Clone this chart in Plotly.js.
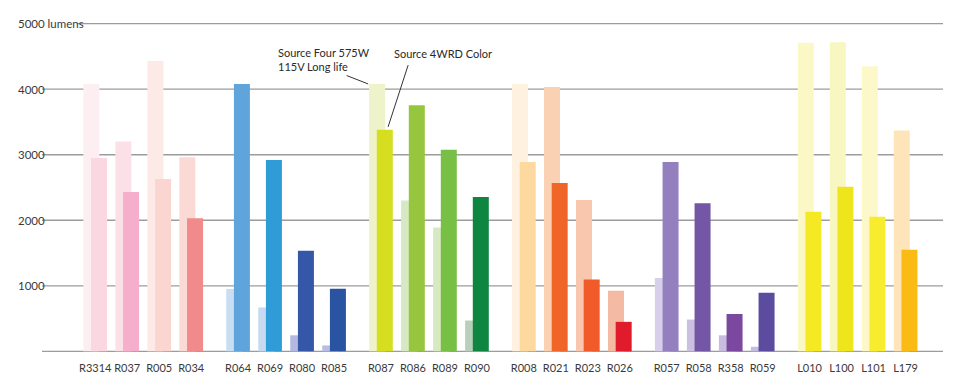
<!DOCTYPE html>
<html>
<head>
<meta charset="utf-8">
<script src="https://cdn.plot.ly/plotly-3.0.1.min.js"></script>
<style>html,body{margin:0;padding:0;background:#fff;}#chart{width:960px;height:390px;}</style>
</head>
<body>
<div id="chart"></div>
<script>
// ---- data ----
const categories = ['R3314','R037','R005','R034','R064','R069','R080','R085','R087','R086','R089','R090',
                    'R008','R021','R023','R026','R057','R058','R358','R059','L010','L100','L101','L179'];
const categoryGroup = [0,0,0,0, 1,1,1,1, 2,2,2,2, 3,3,3,3, 4,4,4,4, 5,5,5,5];
const seriesNames = ['Source Four 575W 115V Long life', 'Source 4WRD Color'];
const sourceFour = [4080,3200,4430,2960, 950,670,245,90, 4080,2300,1890,470, 4080,4035,2310,925, 1120,485,245,70, 4710,4715,4350,3370];
const source4WRD = [2950,2430,2630,2030, 4080,2920,1535,955, 3380,3755,3075,2355, 2890,2570,1095,450, 2890,2260,570,895, 2130,2510,2055,1550];
const yTickValues = [1000,2000,3000,4000,5000];
const yTickLabels = ['1000','2000','3000','4000','5000 lumens'];

// ---- colours ----
const lightColors = ['#fdeef1','#fbe0e8','#fde9e6','#fbd9d5', '#c9ddf3','#c6daf1','#b4b8e1','#b9bde3',
                     '#eff3c9','#d7e9c3','#d6e9c1','#b8cfb9', '#fef1df','#fbd1b3','#f9c6ae','#f5baa4',
                     '#d8d0ea','#cbc0e0','#c8bcdf','#c3bee0', '#fbf8c5','#f8f6c1','#fcf8c9','#fde5b9'];
const darkColors  = ['#fad7e1','#f5aecb','#fbd6d0','#f08a8b', '#5fa5dc','#2f9bd7','#3457a8','#2a53a2',
                     '#d6df1f','#96c63e','#78bf45','#0e8541', '#fdd89f','#f06628','#f15a29','#e01c2c',
                     '#9580bf','#7356a5','#7a489e','#5b4ca0', '#f4e922','#eee51d','#f7ec2d','#fbbb15'];

// ---- layout geometry (pixels) ----
const W = 960, H = 390;
const M = {l: 42, r: 17, t: 23, b: 38};
const plotW = W - M.l - M.r, plotH = H - M.t - M.b;
const groupGap = 0.465;    // extra slot units between groups
const pairOffset = 0.12;   // bar offset from pair centre
const barW = 0.5;
const xRange = [-1.6625, -1.6625 + plotW / 32];
const yRange = [-10, 5010];

const pos = categories.map((c, i) => i + categoryGroup[i] * groupGap);
const xLight = pos.map(p => p - pairOffset);
const xDark = pos.map(p => p + pairOffset);

const txtFont = 'Lato, Roboto, sans-serif';
const pxToPaperX = px => (px - M.l) / plotW;
const pxToPaperY = py => 1 - (py - M.t) / plotH;

const traces = [
  {type: 'bar', name: seriesNames[0], x: xLight, y: sourceFour, width: barW,
   marker: {color: lightColors, line: {width: 0}}, hoverinfo: 'y'},
  {type: 'bar', name: seriesNames[1], x: xDark, y: source4WRD, width: barW,
   marker: {color: darkColors, line: {width: 0}}, hoverinfo: 'y'}
];

// gridlines as shapes (top one starts after its label)
const shapes = yTickValues.map((v, i) => ({
  type: 'line', layer: 'below', xref: 'paper', yref: 'y',
  x0: i === yTickValues.length - 1 ? pxToPaperX(76.7) : 0, x1: 1, y0: v, y1: v,
  line: {color: '#9c9c9c', width: 1.3}
}));
shapes.push({type: 'line', layer: 'below', xref: 'paper', yref: 'y', x0: 0, x1: 1, y0: 0, y1: 0,
  line: {color: '#9c9c9c', width: 1.3}});

const annotations = yTickValues.map((v, i) => ({
  xref: 'paper', yref: 'y', x: pxToPaperX(15.7), y: v, xanchor: 'left', yanchor: 'middle',
  text: yTickLabels[i], showarrow: false, font: {family: txtFont, size: 11.5, color: '#3a3a3a'}
}));

const iR087 = categories.indexOf('R087');
annotations.push({
  xref: 'paper', yref: 'paper', x: pxToPaperX(275.5), y: pxToPaperY(59.8), xanchor: 'left', yanchor: 'middle',
  align: 'left', text: 'Source Four 575W<br>115V Long life', showarrow: false,
  font: {family: txtFont, size: 11, color: '#2a2a2a'}
});
annotations.push({
  xref: 'paper', yref: 'paper', x: pxToPaperX(391.5), y: pxToPaperY(53.2), xanchor: 'left', yanchor: 'middle',
  text: 'Source 4WRD Color', showarrow: false,
  font: {family: txtFont, size: 11, color: '#2a2a2a'}
});
// leader lines
annotations.push({
  xref: 'x', yref: 'y', x: xLight[iR087] - barW / 2 - 0.03, y: sourceFour[iR087],
  text: ' ', font: {size: 1}, showarrow: true, arrowhead: 0, arrowwidth: 1, arrowcolor: '#333',
  ax: -23, ay: -9, standoff: 0, startstandoff: 0
});
annotations.push({
  xref: 'x', yref: 'y', x: xDark[iR087], y: source4WRD[iR087], xshift: 3.3, yshift: 3,
  text: ' ', font: {size: 1}, showarrow: true, arrowhead: 0, arrowwidth: 1, arrowcolor: '#333',
  ax: 20.7, ay: -63.7, standoff: 0, startstandoff: 0
});

const layout = {
  width: W, height: H, margin: M,
  paper_bgcolor: '#fff', plot_bgcolor: '#fff',
  barmode: 'overlay', showlegend: false,
  xaxis: {
    type: 'linear', range: xRange, tickmode: 'array', tickvals: pos, ticktext: categories,
    showgrid: false, zeroline: false, showline: false, ticks: '', ticklabelstandoff: 8, tickangle: 0,
    tickfont: {family: txtFont, size: 11, color: '#3a3a3a'}, fixedrange: true
  },
  yaxis: {
    range: yRange, showgrid: false, zeroline: false, showline: false, showticklabels: false,
    ticks: '', fixedrange: true
  },
  shapes: shapes,
  annotations: annotations
};

Plotly.newPlot('chart', traces, layout, {displayModeBar: false, staticPlot: true});
</script>
</body>
</html>
